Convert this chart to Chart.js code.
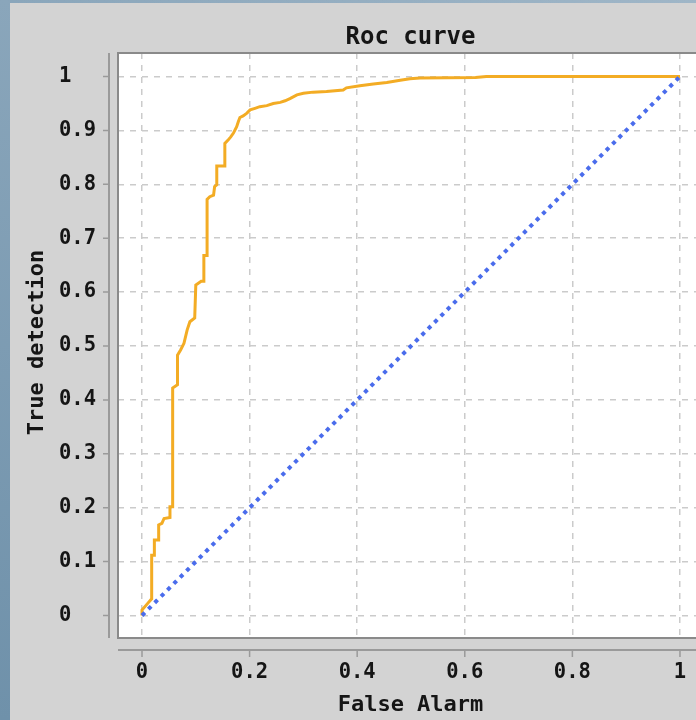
<!DOCTYPE html>
<html>
<head>
<meta charset="utf-8">
<script src="https://cdn.jsdelivr.net/npm/chart.js@4.4.0/dist/chart.umd.min.js"></script>
<style>
  html, body { margin: 0; padding: 0; overflow: hidden; }
  body {
    width: 696px; height: 720px; position: relative;
    background: linear-gradient(90deg, rgba(255,255,255,0) 0%, rgba(255,255,255,0.18) 100%),
                linear-gradient(180deg, #8aa6bb, #6f91aa);
  }
  #wrap { position: absolute; left: 10px; top: 3px; width: 700px; height: 717px; background: #d3d3d3; }
</style>
</head>
<body>
<div id="wrap"><canvas id="roc"></canvas></div>
<script>
// roc curve
const falseAlarm = [0, 0, 0.011, 0.018, 0.018, 0.023, 0.023, 0.031, 0.031, 0.037, 0.041, 0.052, 0.052, 0.057, 0.057,
  0.066, 0.066, 0.072, 0.078, 0.084, 0.089, 0.098, 0.1, 0.11, 0.115, 0.115, 0.121, 0.121, 0.126, 0.133, 0.135,
  0.139, 0.139, 0.153, 0.154, 0.16, 0.165, 0.17, 0.173, 0.176, 0.179, 0.182, 0.188, 0.195, 0.201, 0.21, 0.219,
  0.232, 0.244, 0.257, 0.266, 0.275, 0.288, 0.3, 0.318, 0.343, 0.374, 0.38, 0.405, 0.43, 0.455, 0.48, 0.498,
  0.517, 0.62, 0.64, 1];
const trueDetection = [0, 0.01, 0.023, 0.031, 0.112, 0.112, 0.14, 0.14, 0.168, 0.171, 0.18, 0.182, 0.202, 0.202, 0.422,
  0.428, 0.483, 0.493, 0.505, 0.53, 0.545, 0.552, 0.613, 0.62, 0.62, 0.668, 0.668, 0.772, 0.777, 0.78, 0.796,
  0.799, 0.834, 0.834, 0.876, 0.882, 0.888, 0.895, 0.901, 0.907, 0.916, 0.924, 0.927, 0.932, 0.938, 0.941, 0.944,
  0.946, 0.95, 0.952, 0.955, 0.959, 0.966, 0.969, 0.971, 0.972, 0.975, 0.979, 0.983, 0.986, 0.989, 0.993, 0.996,
  0.997, 0.998, 1, 1];
const chanceX = [0, 1];
const chanceY = [0, 1];
const xTicks = [0, 0.2, 0.4, 0.6, 0.8, 1];
const yTicks = [0, 0.1, 0.2, 0.3, 0.4, 0.5, 0.6, 0.7, 0.8, 0.9, 1];

const MONO = "'DejaVu Sans Mono', monospace";
const INK = '#151515';
const fmt = v => String(Number(v.toFixed(1)));

// white plot box, offset axes, title and y axis title
const frame = {
  id: 'frame',
  beforeDraw(chart) {
    const { ctx, chartArea: a } = chart;
    ctx.save();
    ctx.fillStyle = '#fff';
    ctx.fillRect(a.left, a.top, a.right - a.left, a.bottom - a.top);
    ctx.restore();
  },
  afterDraw(chart) {
    const { ctx, chartArea: a, scales } = chart;
    ctx.save();
    ctx.strokeStyle = '#8a8a8a';
    ctx.lineWidth = 2;
    ctx.beginPath();
    ctx.moveTo(a.right + 5, a.top); ctx.lineTo(a.left, a.top);
    ctx.lineTo(a.left, a.bottom); ctx.lineTo(a.right + 5, a.bottom);
    ctx.stroke();

    const ax = a.left - 9, ay = a.bottom + 12;
    ctx.strokeStyle = '#9a9a9a';
    ctx.beginPath();
    ctx.moveTo(ax, a.top); ctx.lineTo(ax, a.bottom);
    ctx.moveTo(a.left, ay); ctx.lineTo(a.right + 5, ay);
    ctx.stroke();
    ctx.lineWidth = 1.5;
    ctx.beginPath();
    yTicks.forEach(v => { const y = scales.y.getPixelForValue(v); ctx.moveTo(ax - 6, y); ctx.lineTo(ax, y); });
    xTicks.forEach(v => { const x = scales.x.getPixelForValue(v); ctx.moveTo(x, ay); ctx.lineTo(x, ay + 7); });
    ctx.stroke();

    ctx.fillStyle = INK;
    ctx.textAlign = 'center';
    ctx.textBaseline = 'middle';
    ctx.font = 'bold 24px ' + MONO;
    ctx.fillText('Roc curve', (a.left + a.right) / 2, 34.5);
    ctx.font = 'bold 22px ' + MONO;
    ctx.translate(27, (a.top + a.bottom) / 2 - 3);
    ctx.rotate(-Math.PI / 2);
    ctx.fillText('True detection', 0, 0);
    ctx.restore();
  }
};

new Chart(document.getElementById('roc'), {
  type: 'scatter',
  data: {
    datasets: [
      {
        label: 'ROC',
        data: falseAlarm.map((x, i) => ({ x, y: trueDetection[i] })),
        showLine: true,
        borderColor: 'rgb(243,172,36)',
        borderWidth: 3,
        pointRadius: 0,
        order: 1
      },
      {
        label: 'chance',
        data: chanceX.map((x, i) => ({ x, y: chanceY[i] })),
        showLine: true,
        borderColor: 'rgb(74,108,236)',
        borderWidth: 4,
        borderDash: [4, 5],
        pointRadius: 0,
        order: 0
      }
    ]
  },
  options: {
    responsive: true,
    maintainAspectRatio: false,
    animation: false,
    layout: { padding: { left: 49, top: 50, right: 7, bottom: 0 } },
    plugins: { legend: { display: false }, tooltip: { enabled: false } },
    scales: {
      x: {
        type: 'linear', min: -0.0446, max: 1.0428,
        afterBuildTicks: s => { s.ticks = xTicks.map(value => ({ value })); },
        afterFit: s => { s.height = 82; },
        ticks: { callback: fmt, font: { family: MONO, size: 20.5, weight: 'bold' }, color: INK, padding: 22, maxRotation: 0 },
        grid: { color: '#cbcbcb', lineWidth: 1.5, drawTicks: false },
        border: { display: false, dash: [6, 6] },
        title: { display: true, text: 'False Alarm', font: { family: MONO, size: 22, weight: 'bold' }, color: INK, padding: { top: 0, bottom: 2 } }
      },
      y: {
        type: 'linear', min: -0.0417, max: 1.0436,
        afterBuildTicks: s => { s.ticks = yTicks.map(value => ({ value })); },
        afterFit: s => { s.width = 59; },
        ticks: { callback: fmt, font: { family: MONO, size: 20.5, weight: 'bold' }, color: INK, padding: 20, crossAlign: 'far' },
        grid: { color: '#cbcbcb', lineWidth: 1.5, drawTicks: false },
        border: { display: false, dash: [6, 6] }
      }
    }
  },
  plugins: [frame]
});
</script>
</body>
</html>
